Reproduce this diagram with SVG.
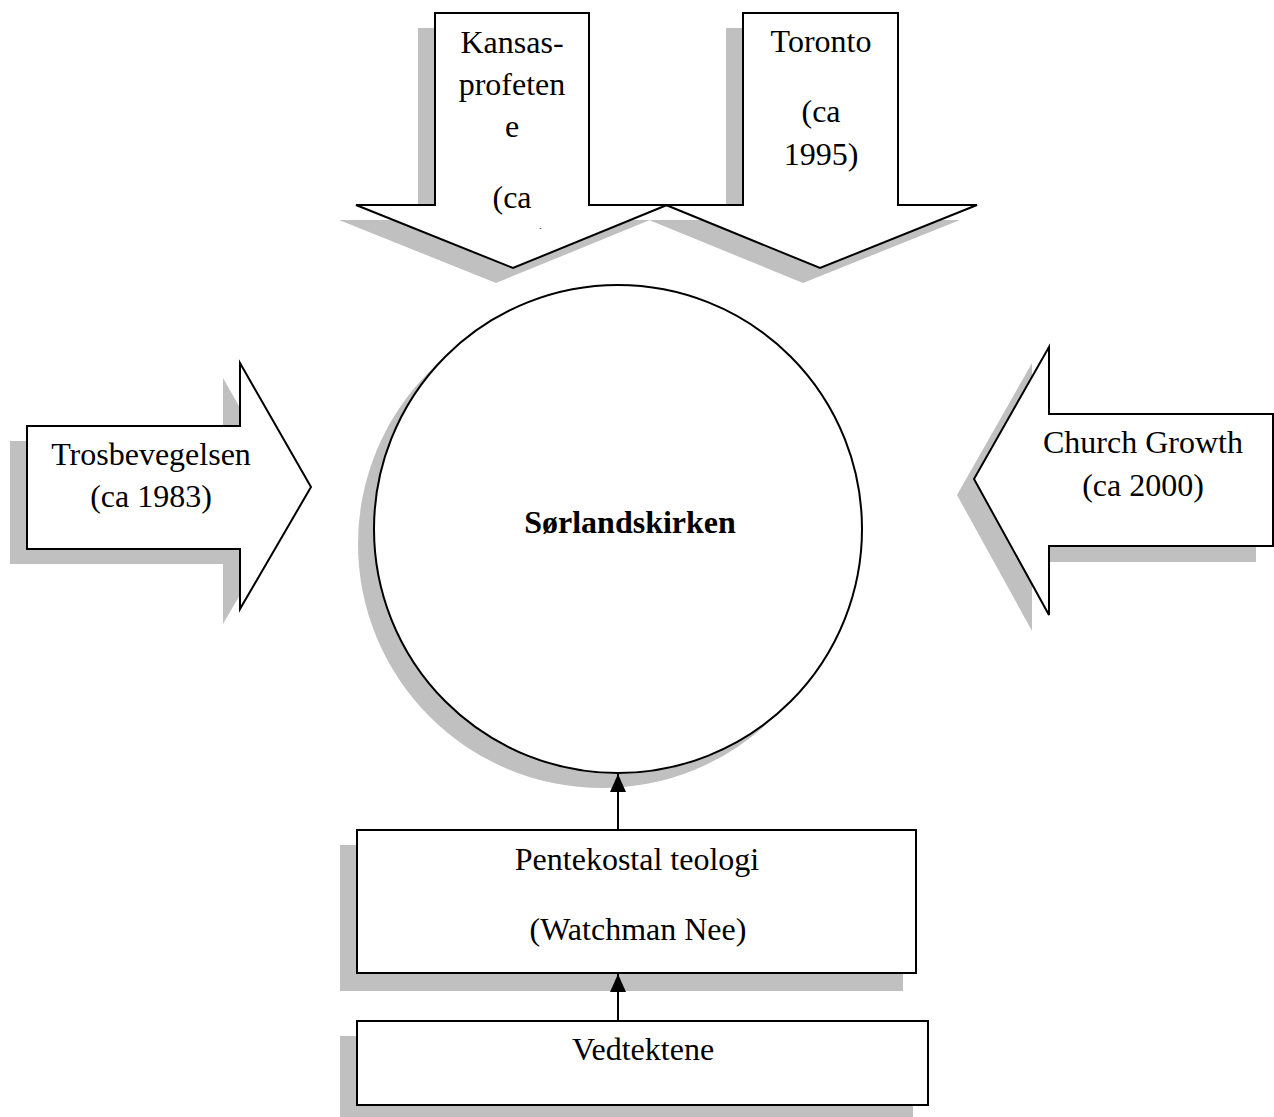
<svg xmlns="http://www.w3.org/2000/svg" width="1274" height="1117" viewBox="0 0 1274 1117">
<style>
.shadow{fill:#c0c0c0;stroke:none}
.shape{fill:#ffffff;stroke:#000000;stroke-width:2}
.t{font-family:"Liberation Serif","Times New Roman",serif;font-size:32px;fill:#000000;text-anchor:middle}
.b{font-weight:bold}
.conn{stroke:#000000;stroke-width:2;fill:none}
</style>
<defs>
<marker id="ah" viewBox="0 0 18 16" refX="18" refY="8" markerWidth="18" markerHeight="16" markerUnits="userSpaceOnUse" orient="auto">
<path d="M0,0 L18,8 L0,16 Z" fill="#000000"/>
</marker>
<clipPath id="kclip"><rect x="430" y="0" width="170" height="229"/></clipPath>
</defs>
<rect width="1274" height="1117" fill="#ffffff"/>

<g id="kansas">
<polygon class="shadow" points="418,28 572,28 572,220 650,220 496,283 339,220 418,220"/>
<polygon class="shape" points="435,13 589,13 589,205 667,205 513,268 356,205 435,205"/>
<text class="t" x="512" y="53">Kansas-</text>
<text class="t" x="512" y="95">profeten</text>
<text class="t" x="512" y="137">e</text>
<text class="t" x="512" y="208">(ca</text>
<text class="t" x="512" y="250" clip-path="url(#kclip)">1990)</text>
</g>

<g id="toronto">
<polygon class="shadow" points="726,28 881,28 881,220 960,220 803,283 649,220 726,220"/>
<polygon class="shape" points="743,13 898,13 898,205 977,205 820,268 666,205 743,205"/>
<text class="t" x="821" y="52">Toronto</text>
<text class="t" x="821" y="122">(ca</text>
<text class="t" x="821" y="165">1995)</text>
</g>

<g id="trosbevegelsen">
<polygon class="shadow" points="10,441 223,441 223,378 294,502 223,624 223,564 10,564"/>
<polygon class="shape" points="27,426 240,426 240,363 311,487 240,609 240,549 27,549"/>
<text class="t" x="151" y="465">Trosbevegelsen</text>
<text class="t" x="151" y="507">(ca 1983)</text>
</g>

<g id="churchgrowth">
<polygon class="shadow" points="957,495 1032,363 1032,430 1256,430 1256,562 1032,562 1032,631"/>
<polygon class="shape" points="974,479 1049,347 1049,414 1273,414 1273,546 1049,546 1049,615"/>
<text class="t" x="1143" y="453">Church Growth</text>
<text class="t" x="1143" y="496">(ca 2000)</text>
</g>

<g id="sorlandskirken">
<circle class="shadow" cx="602" cy="544" r="244"/>
<circle class="shape" cx="618" cy="529" r="244"/>
<text class="t b" x="630" y="533">Sørlandskirken</text>
</g>

<g id="pentekostal">
<rect class="shadow" x="340" y="845" width="563" height="146"/>
<rect class="shape" x="357" y="830" width="559" height="143"/>
<text class="t" x="637" y="870">Pentekostal teologi</text>
<text class="t" x="638" y="940">(Watchman Nee)</text>
</g>

<g id="vedtektene">
<rect class="shadow" x="340" y="1036" width="573" height="90"/>
<rect class="shape" x="357" y="1021" width="571" height="84"/>
<text class="t" x="643" y="1060">Vedtektene</text>
</g>

<g id="connectors">
<line class="conn" x1="618" y1="830" x2="618" y2="774" marker-end="url(#ah)"/>
<line class="conn" x1="618" y1="1021" x2="618" y2="974" marker-end="url(#ah)"/>
</g>
</svg>
